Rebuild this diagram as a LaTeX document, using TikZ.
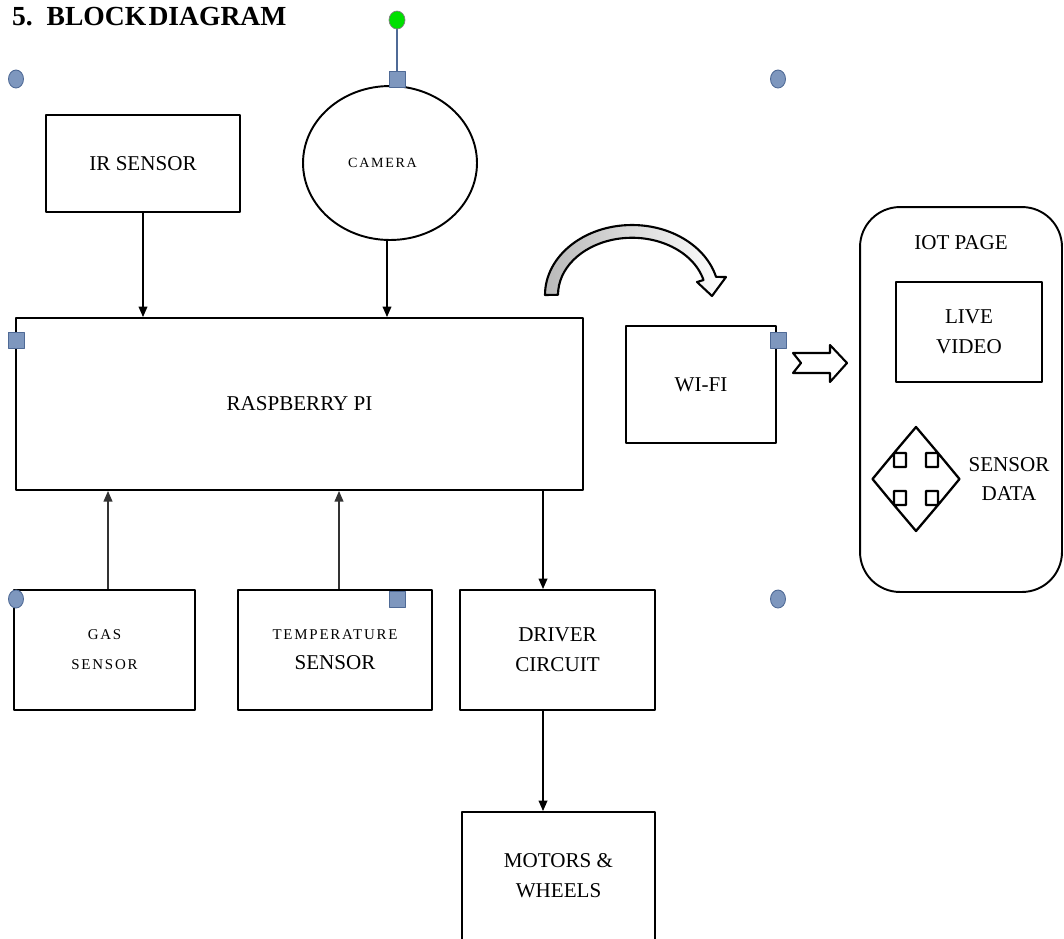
\documentclass[tikz,border=0pt]{standalone}
\usepackage{fontspec}
\setmainfont{Liberation Serif}
\newfontfamily\spacedfont[LetterSpace=12]{Liberation Serif}
\usetikzlibrary{shapes.geometric, arrows.meta}
\definecolor{handlefill}{HTML}{7E97BE}
\definecolor{handleline}{HTML}{4F6A96}
\definecolor{handlegreen}{HTML}{00E000}
\begin{document}
\begin{tikzpicture}[x=0.02cm, y=-0.02cm, font=\fontsize{12}{17}\selectfont, line join=round, >={Triangle[length=6pt, width=5pt]}]
		\tikzset{
			box/.style={draw, line width=1.1pt, align=center, inner sep=2pt},
			small/.style={font=\spacedfont\fontsize{8.5}{17}\selectfont},
			link/.style={->, line width=0.8pt},
			handle/.style={draw=handleline, fill=handlefill, line width=0.5pt},
		}
		\clip (0,0) rectangle (1064,938);
		% title
		\node[anchor=west, font=\bfseries\fontsize{15.7}{18}\selectfont] (title) at (6,17) {5.\, BLOCK\hspace{0.08em}DIAGRAM};
		% blocks
		\node[box, minimum width=3.88cm, minimum height=1.94cm] (ir) at (143,163.5) {IR SENSOR};
		\node[box, ellipse, inner sep=0pt, minimum width=3.48cm, minimum height=3.08cm, font=\spacedfont\fontsize{8}{10}\selectfont] (cam) at (390,163) {CAMERA\hspace{0.3cm}};
		\node[box, minimum width=11.34cm, minimum height=3.44cm] (rpi) at (299.5,404) {RASPBERRY PI};
		\node[box, minimum width=3.0cm, minimum height=2.34cm] (wifi) at (701,384.5) {WI-FI};
		\node[box, small, minimum width=3.62cm, minimum height=2.4cm] (gas) at (104.5,650) {GAS\\SENSOR};
		\node[box, minimum width=3.88cm, minimum height=2.4cm] (temp) at (335,650) {{\spacedfont\fontsize{8.5}{17}\selectfont TEMPERATURE}\\SENSOR};
		\node[box, minimum width=3.9cm, minimum height=2.4cm] (driver) at (557.5,650) {DRIVER\\CIRCUIT};
		\node[box, minimum width=3.86cm, minimum height=2.56cm] (motors) at (558.5,876) {MOTORS \&\\WHEELS};
		% iot page
		\node[box, rounded corners=0.8cm, minimum width=4.04cm, minimum height=7.7cm] (iot) at (961,399.5) {};
		\node[below=0.46cm] (iottitle) at (iot.north) {IOT PAGE};
		\node[box, minimum width=2.92cm, minimum height=2.0cm] (live) at (969,332) {LIVE\\VIDEO};
		\node[align=center] (data) at (1009,479) {SENSOR\\DATA};
		% connectors
		\draw[link] (ir.south) -- (ir.south |- rpi.north);
		\draw[link] ([xshift=-0.06cm]cam.south) -- ([xshift=-0.06cm]cam.south |- rpi.north);
		\draw[link, black!80, line width=0.7pt] ([xshift=0.07cm]gas.north) -- ([xshift=0.07cm]gas.north |- rpi.south);
		\draw[link, black!80, line width=0.7pt] ([xshift=0.08cm]temp.north) -- ([xshift=0.08cm]temp.north |- rpi.south);
		\draw[link] ([xshift=-0.29cm]driver.north |- rpi.south) -- ([xshift=-0.29cm]driver.north);
		\draw[link] ([xshift=-0.29cm]driver.south) -- ([xshift=-0.29cm]driver.south |- motors.north);
		% curved arrow over wi-fi
		\shadedraw[line width=1.2pt, left color=gray!55, right color=white]
			(545,295) arc[start angle=180, end angle=345, x radius=87, y radius=70]
			-- (726,277) -- (712,296) -- (697,282)
			-- (703.5,280) arc[start angle=345, end angle=180, x radius=74, y radius=57] -- cycle;
		% block arrow to iot page
		\draw[line width=1.2pt, fill=white] (793,353) -- (830,353) -- (830,345) -- (847,363)
			-- (830,382) -- (830,373) -- (793,373) -- (801,363) -- cycle;
		% four-way arrow
		\begin{scope}[shift={(916,479)}]
			\draw[line width=1.3pt, fill=white] (0,-52) -- (-22,-26) -- (-10,-26) -- (-10,-12) -- (-22,-12) -- (-22,-26)
				-- (-43.5,0) -- (-22,26) -- (-22,12) -- (-10,12) -- (-10,26) -- (-22,26)
				-- (0,52) -- (22,26) -- (10,26) -- (10,12) -- (22,12) -- (22,26)
				-- (43.5,0) -- (22,-26) -- (22,-12) -- (10,-12) -- (10,-26) -- (22,-26) -- cycle;
		\end{scope}
		% selection handles
		\draw[handleline, line width=1pt] (397,28) -- (397,71);
		\draw[draw=black!50, fill=handlegreen] (397,20) circle[x radius=8, y radius=9];
		\foreach \x/\y in {16/79, 778/79, 16/599, 778/599}
			\draw[handle] (\x,\y) circle[x radius=7.5, y radius=9];
		\foreach \x/\y in {397/79, 16/340, 778/340, 397/599}
			\draw[handle] (\x-8,\y-8) rectangle (\x+8,\y+8);
	\end{tikzpicture}
\end{document}
